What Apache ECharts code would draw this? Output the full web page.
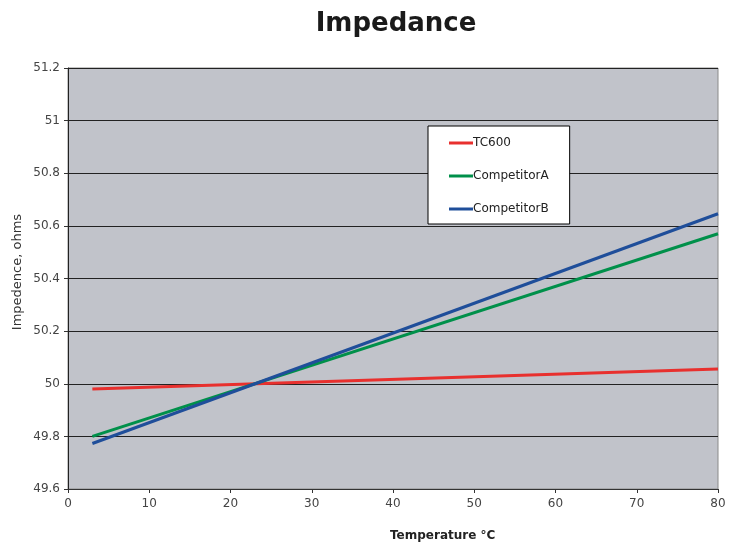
<!DOCTYPE html>
<html><head><meta charset="utf-8">
<script src="https://cdn.jsdelivr.net/npm/echarts@6/dist/echarts.min.js"></script>
<style>html,body{margin:0;padding:0;background:#fff}#c{width:737px;height:543px}</style>
</head><body><div id="c"></div>
<script>
var temps = [3, 80];
var tc600 = [49.98, 50.056];
var competitorA = [49.80, 50.57];
var competitorB = [49.773, 50.646];
var seriesNames = ['TC600', 'CompetitorA', 'CompetitorB'];
var colors = ['#e8302e', '#00904a', '#1f4e9a'];

function pairs(v){ return temps.map(function(t,i){ return [t, v[i]]; }); }
var font = '"DejaVu Sans", sans-serif';
var chart = echarts.init(document.getElementById('c'));
chart.setOption({
  animation:false,
  title:{text:'Impedance', left:391, top:6, textAlign:'center',
    textStyle:{fontFamily:font, fontSize:26, fontWeight:'bold', color:'#1a1a1a'}},
  legend:{orient:'vertical', left:428, top:126, width:141, height:98,
    backgroundColor:'#fff', borderColor:'#000', borderWidth:1,
    padding:[11, 21, 9, 21], itemGap:21, itemWidth:24, itemHeight:3,
    icon:'rect',
    textStyle:{fontFamily:font, fontSize:12, color:'#222', padding:[0,0,0,-5]},
    data:seriesNames},
  graphic:[
    {type:'text', left:390, top:530, style:{text:'Temperature °C', fontFamily:font, fontSize:12, fontWeight:'bold', fill:'#222'}},
    {type:'text', x:18, y:272, rotation:Math.PI/2, style:{text:'Impedence, ohms', fontFamily:font, fontSize:13, fill:'#333', align:'center', verticalAlign:'middle'}}
  ],
  grid:{left:68, right:19, top:68, bottom:54, show:true, backgroundColor:'#c1c3ca', borderColor:'#8a8a8a', borderWidth:1},
  xAxis:{type:'value', min:0, max:80, interval:10,
    axisLine:{show:true, lineStyle:{color:'#333'}},
    axisTick:{show:true, length:4, lineStyle:{color:'#333'}},
    axisLabel:{fontFamily:font, fontSize:12, color:'#444', margin:9},
    splitLine:{show:false}},
  yAxis:{type:'value', min:49.6, max:51.2, interval:0.2,
    axisLine:{show:true, lineStyle:{color:'#222'}},
    axisTick:{show:true, length:4, lineStyle:{color:'#333'}},
    axisLabel:{fontFamily:font, fontSize:12, color:'#444', margin:8,
      formatter:function(v){ return String(Math.round(v*10)/10); }},
    splitLine:{show:true, lineStyle:{color:'#222', width:1}}},
  series:[
    {name:seriesNames[0], type:'line', data:pairs(tc600), showSymbol:false, lineStyle:{color:colors[0], width:3}, itemStyle:{color:colors[0]}},
    {name:seriesNames[1], type:'line', data:pairs(competitorA), showSymbol:false, lineStyle:{color:colors[1], width:3}, itemStyle:{color:colors[1]}},
    {name:seriesNames[2], type:'line', data:pairs(competitorB), showSymbol:false, lineStyle:{color:colors[2], width:3}, itemStyle:{color:colors[2]}}
  ]
});
</script></body></html>
